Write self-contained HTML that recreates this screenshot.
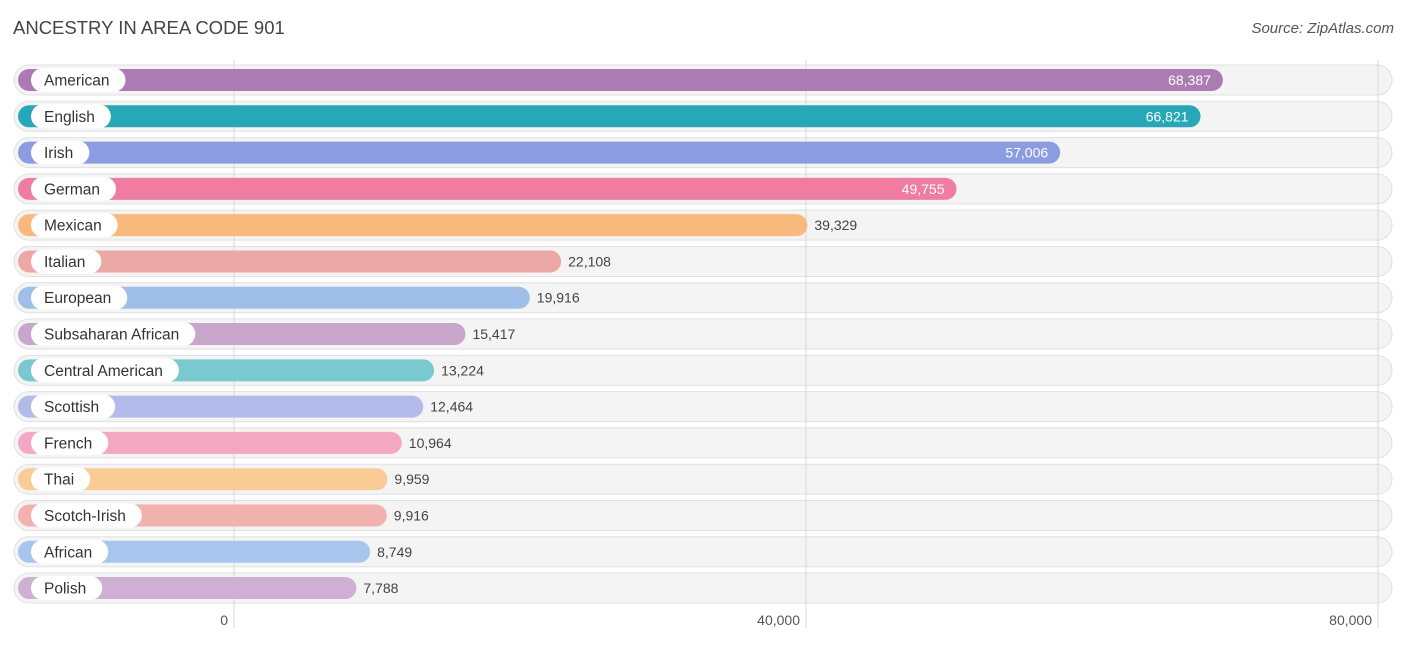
<!DOCTYPE html>
<html><head><meta charset="utf-8"><style>
body{margin:0;background:#fff;font-family:"Liberation Sans",sans-serif;}
svg text{font-family:"Liberation Sans",sans-serif;}
</style></head><body>
<svg width="1406" height="644" id="chart">
<text x="13" y="34" font-size="18.5" fill="#444">ANCESTRY IN AREA CODE 901</text>
<text x="1394" y="33" font-size="15" fill="#555" text-anchor="end" font-style="italic">Source: ZipAtlas.com</text>
<g id="grid"></g><g id="rows"></g><g id="ticks"></g>
</svg>
<script>
const categories=["American","English","Irish","German","Mexican","Italian","European","Subsaharan African","Central American","Scottish","French","Thai","Scotch-Irish","African","Polish"];
const values=[68387,66821,57006,49755,39329,22108,19916,15417,13224,12464,10964,9959,9916,8749,7788];
const colors=["#ad7bb3","#27a8b8","#8c9ce0","#f17ca2","#f9b97c","#eca8a4","#9dbfe8","#c8a5cb","#79c9d1","#b3bbea","#f5a6c2","#fbcb96","#f1b1ac","#a7c6ee","#d0afd4"];
const tickValues=[0,40000,80000];
const tickLabels=["0","40,000","80,000"];
const NS="http://www.w3.org/2000/svg";
const x=v=>234+v*572/40000;
const y=i=>80+i*36.29;
function mk(t,a,p){const e=document.createElementNS(NS,t);for(const k in a)e.setAttribute(k,a[k]);p.appendChild(e);return e;}
const grid=document.getElementById('grid'),rows=document.getElementById('rows'),ticks=document.getElementById('ticks');
categories.forEach((c,i)=>{
 const cy=y(i);
 const g=mk('g',{},rows);
 
 
 const bg=mk('rect',{x:14,y:cy-15,width:1378,height:30,rx:15,fill:'#f4f4f4',stroke:'#e0e0e0'},g);
 
 
});
tickValues.forEach((t,i)=>{
 const l=mk('line',{x1:x(t),x2:x(t),y1:60,y2:628,stroke:'#d8d8d8','stroke-width':1},grid);
 
 
 const tx=mk('text',{x:x(t)-6,y:625,'font-size':14,fill:'#555','text-anchor':'end'},ticks);
 tx.textContent=tickLabels[i];
 
 
});
rows.parentNode.appendChild(grid);
categories.forEach((c,i)=>{
 const cy=y(i);
 const g=mk('g',{},ticks.parentNode);
 
 
 const end=x(values[i])+11;
 const b=mk('rect',{x:18,y:cy-11,width:end-18,height:22,rx:11,fill:colors[i]},g);
 
 
 const lt=mk('text',{x:44,y:cy+5.5,'font-size':15.5,fill:'#333'},g);
 lt.textContent=c;
 const w=lt.getComputedTextLength();
 const pill=mk('rect',{x:31,y:cy-12,width:w+29,height:24,rx:12,fill:'#fff'},g);
 
 
 g.appendChild(lt);
 
 
 const inside=i<4;
 const vt=mk('text',{x:inside?end-12:end+7,y:cy+5,'font-size':14,fill:inside?'#fff':'#444','text-anchor':inside?'end':'start'},g);
 vt.textContent=values[i].toLocaleString('en-US');
 
 
});
</script>
</body></html>
